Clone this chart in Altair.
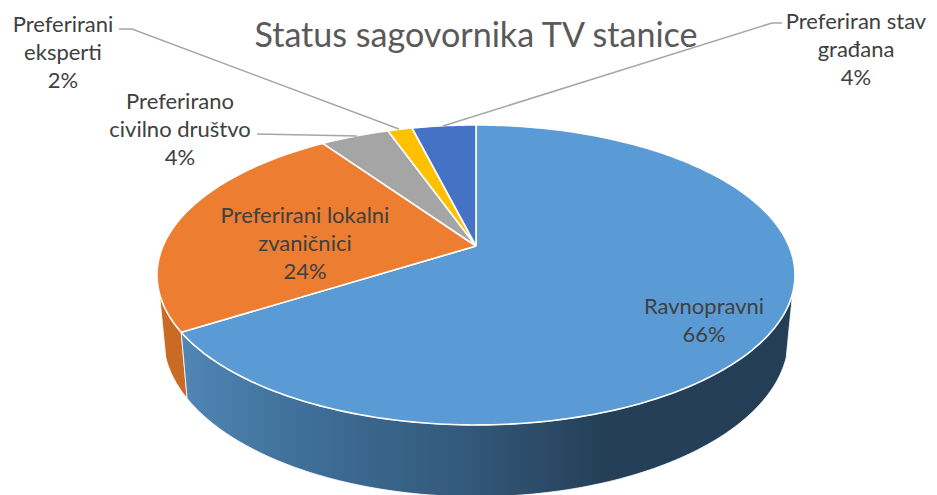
import math
import altair as alt
import pandas as pd

# ---- values ----
categories = ["Ravnopravni", "Preferirani lokalni zvaničnici", "Preferirano civilno društvo",
              "Preferirani eksperti", "Preferiran stav građana"]
shares = [66.0, 24.4, 4.2, 1.5, 3.9]
label_texts = ["Ravnopravni\n66%", "Preferirani lokalni\nzvaničnici\n24%",
               "Preferirano\ncivilno društvo\n4%", "Preferirani\neksperti\n2%",
               "Preferiran stav\ngrađana\n4%"]
title_text = "Status sagovornika TV stanice"

# ---- styling / layout (separate from the values) ----
face_colors = ["#5b9bd5", "#ed7d31", "#a5a5a5", "#ffc000", "#4472c4"]
text_color = "#404040"
title_color = "#595959"
font = "Lato"
M = 8
W, H = 921, 487
CX, CY, R, DEPTH, TILT = 476 - M, 246 - M, 313.0, 144.4, 0.193
SIDE_SX, SIDE_SY, SIDE_DY = 0.98, 1.06, 61.0
WALL_FROM, WALL_TO = 108.0, 252.0
label_x = [704, 305, 180, 63, 856]
label_y = [307, 216, 102, 25, 22]
title_x, title_y = 476, 47
leaders = [[(119, 29), (132, 29), (399, 129)],
           [(257, 134), (357, 136)],
           [(782, 23), (772, 23), (443, 126)]]


def face_point(deg):
    t = math.radians(deg)
    w = 1 + TILT * math.cos(t)
    return CX + R * math.sin(t) / w, CY - DEPTH * math.cos(t) / w


def side_point(deg):
    x, y = face_point(deg)
    return CX + SIDE_SX * (x - CX), CY + SIDE_DY + SIDE_SY * (y - CY)


def steps(a, b, size=1.0):
    n = max(2, int(abs(b - a) / size))
    return [a + (b - a) * i / n for i in range(n + 1)]


def frame(points):
    return pd.DataFrame({"x": [p[0] for p in points], "y": [p[1] for p in points],
                         "i": list(range(len(points)))})


X = alt.X("x:Q", scale=alt.Scale(domain=[0, W], nice=False, zero=False), axis=None)
Y = alt.Y("y:Q", scale=alt.Scale(domain=[H, 0], nice=False, zero=False), axis=None)


def polygon(points, **mark):
    return alt.Chart(frame(points)).mark_line(**mark).encode(x=X, y=Y, order="i:Q")


# slice boundaries in degrees, clockwise from the top of the pie
bounds = [0.0]
for s in shares:
    bounds.append(bounds[-1] + s * 3.6)

layers = []

# side walls
split = bounds[1]
blue_wall = [face_point(a) for a in steps(WALL_FROM, split)] + [side_point(a) for a in steps(split, WALL_FROM)]
blue_wall.append(blue_wall[0])
orange_wall = [face_point(a) for a in steps(split, WALL_TO)] + [side_point(a) for a in steps(WALL_TO, split)]
orange_wall.append(orange_wall[0])

wall_gradient = alt.LinearGradient(
    gradient="linear", x1=0, x2=1, y1=0, y2=0,
    stops=[alt.GradientStop(offset=0, color="#5086b5"),
           alt.GradientStop(offset=0.2, color="#3f6f99"),
           alt.GradientStop(offset=0.45, color="#345a7c"),
           alt.GradientStop(offset=0.7, color="#243f57"),
           alt.GradientStop(offset=1, color="#233e55")])
layers.append(polygon(orange_wall, fill="#c96a25", stroke="#ffffff", strokeWidth=0.8))
layers.append(polygon(blue_wall, fill=wall_gradient, stroke="#ffffff", strokeWidth=0.8))

# top face slices
for i in range(len(shares)):
    pts = [(CX, CY)] + [face_point(a) for a in steps(bounds[i], bounds[i + 1])] + [(CX, CY)]
    layers.append(polygon(pts, fill=face_colors[i], stroke="#ffffff", strokeWidth=1.6,
                          strokeJoin="round"))

# leader lines
for line in leaders:
    pts = [(px - M, py - M) for px, py in line]
    layers.append(alt.Chart(frame(pts)).mark_line(color="#a6a6a6", strokeWidth=1.5).encode(
        x=X, y=Y, order="i:Q"))

# data labels
labels = pd.DataFrame({"category": categories, "label": label_texts,
                       "x": [v - M for v in label_x], "y": [v - M for v in label_y]})
layers.append(alt.Chart(labels).mark_text(
    font=font, fontSize=22, color=text_color, align="center", baseline="middle",
    lineBreak="\n", lineHeight=28).encode(x=X, y=Y, text="label:N"))

# chart title
titles = pd.DataFrame({"title": [title_text], "x": [title_x - M], "y": [title_y - M]})
layers.append(alt.Chart(titles).mark_text(
    font=font, fontSize=34.1, color=title_color, align="center", baseline="alphabetic").encode(
    x=X, y=Y, text="title:N"))

chart = alt.layer(*layers).properties(
    width=W, height=H, padding=0, autosize=alt.AutoSizeParams(type="none"),
).configure_view(stroke=None)

chart.save("out.html", embed_options={"renderer": "svg", "actions": False})
